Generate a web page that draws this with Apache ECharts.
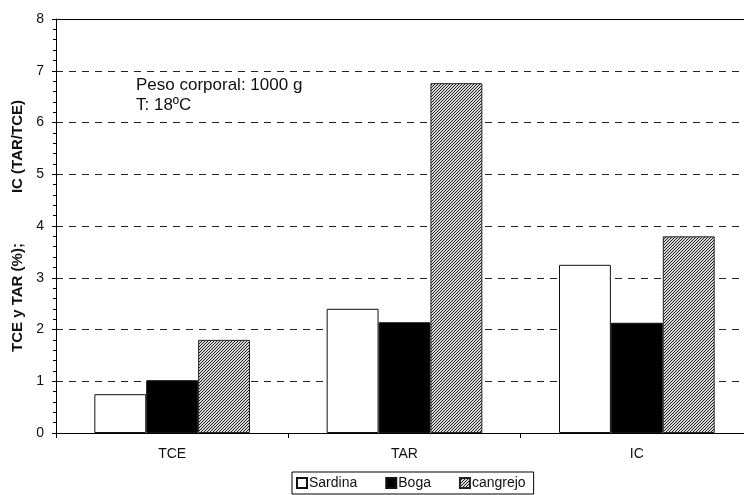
<!DOCTYPE html>
<html><head><meta charset="utf-8">
<script src="https://cdn.jsdelivr.net/npm/echarts@6/dist/echarts.min.js"></script>
<style>html,body{margin:0;padding:0;background:#fff}#c{width:744px;height:495px}</style>
</head><body><div id="c"></div>
<script>
const categories = ['TCE', 'TAR', 'IC'];
const sardina = [0.75, 2.40, 3.25];
const boga = [1.02, 2.14, 2.13];
const cangrejo = [1.80, 6.76, 3.80];
const seriesNames = ['Sardina', 'Boga', 'cangrejo'];
const yTicks = [0, 1, 2, 3, 4, 5, 6, 7, 8];

const FONT = "'Liberation Sans', Arial, sans-serif";

function hatch() {
  const cv = document.createElement('canvas');
  cv.width = 3; cv.height = 3;
  const ctx = cv.getContext('2d');
  ctx.fillStyle = '#d8d8d8';
  ctx.fillRect(0, 0, 3, 3);
  ctx.fillStyle = '#222';
  ctx.fillRect(2, 0, 1, 1);
  ctx.fillRect(1, 1, 1, 1);
  ctx.fillRect(0, 2, 1, 1);
  return { image: cv, repeat: 'repeat' };
}
const pat = hatch();

const chart = echarts.init(document.getElementById('c'), null, { renderer: 'canvas' });
chart.setOption({
  animation: false,
  backgroundColor: '#fff',
  textStyle: { fontFamily: FONT },
  title: {
    text: 'Peso corporal: 1000 g\nT: 18ºC',
    left: 136, top: 75, padding: 0,
    textStyle: { fontFamily: FONT, fontSize: 17, fontWeight: 'normal', color: '#111', lineHeight: 20 }
  },
  legend: {
    data: seriesNames,
    left: 292, top: 472,
    orient: 'horizontal',
    icon: 'rect',
    itemWidth: 10, itemHeight: 10, itemGap: 28,
    padding: [4, 8, 4, 4],
    borderColor: '#000', borderWidth: 1,
    textStyle: { fontFamily: FONT, fontSize: 14, color: '#111', padding: [0, 0, 0, -3] }
  },
  grid: { left: 56, width: 697, top: 19, bottom: 62, containLabel: false, outerBoundsMode: 'none' },
  xAxis: [{
    type: 'category',
    data: categories,
    axisLine: { lineStyle: { color: '#000', width: 1 } },
    axisTick: { show: true, length: 5, lineStyle: { color: '#000' } },
    axisLabel: { fontFamily: FONT, fontSize: 14, color: '#111', margin: 14 },
    splitLine: { show: false }
  }, {
    type: 'category',
    data: categories,
    position: 'top',
    axisLine: { show: true, lineStyle: { color: '#000', width: 1 } },
    axisTick: { show: false },
    axisLabel: { show: false }
  }],
  yAxis: {
    type: 'value',
    min: 0, max: 8, interval: 1,
    name: 'TCE y TAR (%);            IC (TAR/TCE)',
    nameLocation: 'middle',
    nameGap: 24,
    nameTextStyle: { fontFamily: FONT, fontSize: 15, fontWeight: 'bold', color: '#111' },
    axisLine: { show: true, lineStyle: { color: '#000', width: 1 } },
    axisTick: { show: true, length: 4, lineStyle: { color: '#000' } },
    minorTick: { show: true, splitNumber: 5, length: 3, lineStyle: { color: '#000' } },
    axisLabel: { fontFamily: FONT, fontSize: 14, color: '#111', margin: 12,
      formatter: v => yTicks.includes(v) ? String(v) : '' },
    splitLine: { show: true, lineStyle: { color: '#222', type: [7, 6], width: 1 } }
  },
  series: [
    { name: seriesNames[0], type: 'bar', data: sardina, barGap: '0%', barCategoryGap: '33%',
      itemStyle: { color: '#fff', borderColor: '#111', borderWidth: 1 } },
    { name: seriesNames[1], type: 'bar', data: boga,
      itemStyle: { color: '#000', borderColor: '#111', borderWidth: 1 } },
    { name: seriesNames[2], type: 'bar', data: cangrejo,
      itemStyle: { color: pat, borderColor: '#222', borderWidth: 1 } }
  ]
});
</script></body></html>
